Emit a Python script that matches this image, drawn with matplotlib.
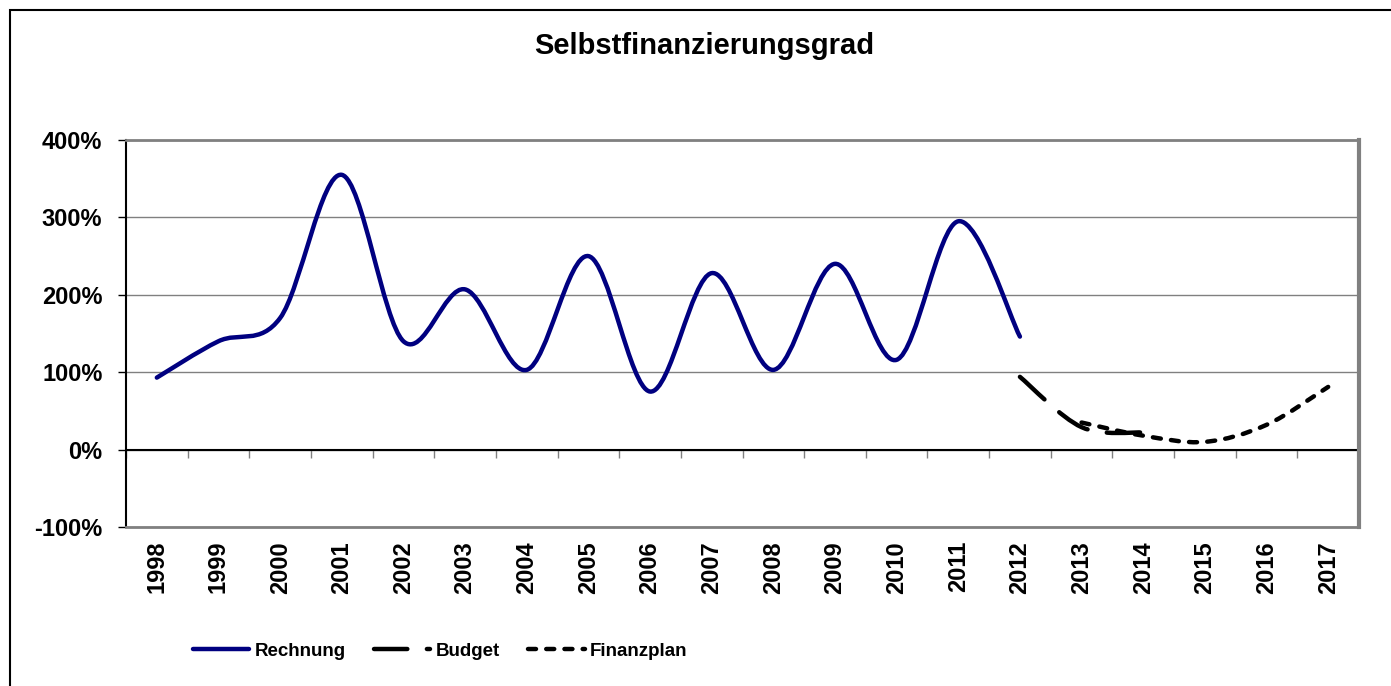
import matplotlib
matplotlib.use("Agg")
import matplotlib.pyplot as plt
from matplotlib.path import Path
from matplotlib.patches import PathPatch, Rectangle
from matplotlib.lines import Line2D
from matplotlib.ticker import FuncFormatter

plt.rcParams['font.family'] = ['Liberation Sans', 'DejaVu Sans']
plt.rcParams['font.weight'] = 'bold'

years = [str(y) for y in range(1998, 2018)]

# values in percent
rechnung_years = list(range(1998, 2013))
rechnung = [93, 140, 170, 355, 140, 207, 103, 250, 75, 228, 103, 240, 116, 295, 146]

budget_years = [2012, 2013, 2014]
budget = [94, 29, 22]

finanzplan_years = [2013, 2014, 2015, 2016, 2017]
finanzplan = [35, 18, 10, 32, 81]


def smooth_path(xs, ys):
    # excel-like smoothed line: bezier segments through the data points
    pts = list(zip(xs, ys))
    verts = [pts[0]]
    codes = [Path.MOVETO]
    for i in range(len(pts) - 1):
        p0 = pts[i - 1] if i > 0 else pts[i]
        p1 = pts[i]
        p2 = pts[i + 1]
        p3 = pts[i + 2] if i + 2 < len(pts) else pts[i + 1]
        c1 = (p1[0] + (p2[0] - p0[0]) / 6, p1[1] + (p2[1] - p0[1]) / 6)
        c2 = (p2[0] - (p3[0] - p1[0]) / 6, p2[1] - (p3[1] - p1[1]) / 6)
        verts += [c1, c2, p2]
        codes += [Path.CURVE4] * 3
    return Path(verts, codes)


def idx(yrs):
    return [years.index(str(y)) for y in yrs]


fig = plt.figure(figsize=(13.91, 6.86), dpi=100)
fig.patches.append(Rectangle((10 / 1391, -0.1), 1.2, 1.1 - 10 / 686, transform=fig.transFigure,
                             fill=False, edgecolor='black', lw=1.5))

ax = fig.add_axes([126 / 1391, 159 / 686, 1233 / 1391, 387 / 686])

navy = '#000080'
lw = 3.2
budget_style = (0, (7.5, 4.4))
plan_style = (0, (1.8, 2.3))

ax.add_patch(PathPatch(smooth_path(idx(rechnung_years), rechnung), fill=False,
                       edgecolor=navy, lw=lw, capstyle='round', joinstyle='round', zorder=3))
ax.add_patch(PathPatch(smooth_path(idx(finanzplan_years), finanzplan), fill=False,
                       edgecolor='black', lw=lw, linestyle=plan_style, capstyle='round', zorder=3))
ax.add_patch(PathPatch(smooth_path(idx(budget_years), budget), fill=False,
                       edgecolor='black', lw=lw, linestyle=budget_style, capstyle='round', zorder=4))

ax.set_xlim(-0.5, len(years) - 0.5)
ax.set_ylim(-100, 400)
ax.set_yticks([-100, 0, 100, 200, 300, 400])
ax.yaxis.set_major_formatter(FuncFormatter(lambda v, p: f"{v:.0f}%"))
ax.yaxis.grid(True, color='#808080', lw=1)
ax.set_axisbelow(True)
ax.tick_params(axis='y', length=6, width=1, pad=11, labelsize=17, direction='out')
ax.set_xticks(range(len(years)))
ax.set_xticklabels(years, rotation=90, fontsize=17)
ax.tick_params(axis='x', length=0, pad=10)
ax.axhline(0, color='black', lw=1.5, zorder=2)

for s in ['top', 'right', 'bottom']:
    ax.spines[s].set_color('#808080')
    ax.spines[s].set_linewidth(2)
ax.spines['right'].set_linewidth(3)
ax.spines['left'].set_color('black')
ax.spines['left'].set_linewidth(1.5)

sec = ax.secondary_xaxis(0.2)
sec.set_xticks([i - 0.5 for i in range(len(years) + 1)])
sec.set_xticklabels([])
sec.tick_params(length=6, width=1, color='#808080', direction='out')
sec.spines['bottom'].set_visible(False)

fig.text(0.506, 1 - 46 / 686, 'Selbstfinanzierungsgrad', ha='center', va='center',
         fontsize=21, fontweight='bold')

handles = [
    Line2D([], [], color=navy, lw=lw, solid_capstyle='round'),
    Line2D([], [], color='black', lw=lw, linestyle=budget_style, dash_capstyle='round'),
    Line2D([], [], color='black', lw=lw, linestyle=plan_style, dash_capstyle='round'),
]
fig.legend(handles, ['Rechnung', 'Budget', 'Finanzplan'], loc='center left',
           bbox_to_anchor=(176 / 1391, 35 / 686), ncol=3, frameon=False,
           prop={'size': 13.5, 'weight': 'bold'}, handlelength=3.0, handletextpad=0.3,
           columnspacing=1.5)

fig.savefig('out.png', dpi=100)
